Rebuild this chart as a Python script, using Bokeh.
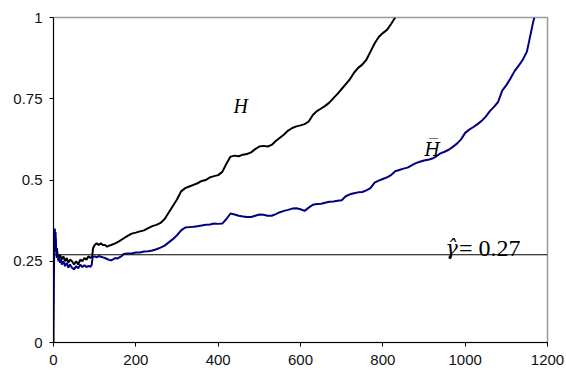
from bokeh.plotting import figure
from bokeh.models import Range1d, FixedTicker, Span, Label
from bokeh.embed import file_html
from bokeh.resources import INLINE

# ---- data ----
X_TICKS = [0, 200, 400, 600, 800, 1000, 1200]
Y_TICKS = [0, 0.25, 0.5, 0.75, 1]
Y_TICK_LABELS = ["0", "0.25", "0.5", "0.75", "1"]

GAMMA_HAT = 0.27

h_x = [1, 2, 3, 4, 5, 6, 8, 10, 13, 16, 20, 24, 28, 32, 36, 40, 45, 50, 55, 60,
       65, 70, 75, 80, 85, 90, 94, 96, 100, 105, 110, 115, 120, 125, 130, 135, 140,
       150, 160, 170, 180, 190, 200, 210, 220, 230, 240, 250, 260, 270, 280, 290,
       300, 310, 320, 330, 340, 350, 360, 370, 380, 390, 400, 410, 420, 430, 440,
       450, 460, 470, 480, 490, 500, 510, 520, 530, 540, 550, 560, 570, 580, 590,
       600, 610, 620, 630, 640, 650, 660, 670, 680, 690, 700, 710, 720, 730, 740,
       750, 760, 770, 780, 790, 800, 810, 820, 830]
h_y = [0.30, 0.35, 0.33, 0.29, 0.32, 0.28, 0.29, 0.27, 0.26, 0.27, 0.255, 0.265,
       0.25, 0.26, 0.245, 0.255, 0.25, 0.24, 0.25, 0.24, 0.255, 0.25, 0.26, 0.255,
       0.265, 0.26, 0.265, 0.29, 0.30, 0.305, 0.30, 0.305, 0.30, 0.30, 0.295, 0.298,
       0.30, 0.305, 0.312, 0.32, 0.328, 0.335, 0.338, 0.342, 0.345, 0.352, 0.358,
       0.362, 0.368, 0.38, 0.40, 0.42, 0.44, 0.465, 0.475, 0.48, 0.485, 0.49, 0.497,
       0.50, 0.508, 0.512, 0.515, 0.525, 0.55, 0.572, 0.575, 0.573, 0.578, 0.58,
       0.585, 0.595, 0.603, 0.605, 0.603, 0.608, 0.62, 0.63, 0.64, 0.652, 0.66,
       0.665, 0.668, 0.672, 0.68, 0.70, 0.712, 0.72, 0.728, 0.738, 0.752, 0.765,
       0.78, 0.795, 0.81, 0.83, 0.845, 0.855, 0.87, 0.895, 0.92, 0.94, 0.952,
       0.962, 0.98, 1.0]

hbar_x = [0, 1, 2, 3, 4, 5, 6, 7, 8, 10, 12, 14, 16, 18, 20, 24, 28, 32, 36, 40,
          45, 50, 55, 60, 65, 70, 75, 80, 85, 90, 93, 95, 100, 105, 110, 115, 120,
          125, 130, 135, 140, 145, 150, 155, 160, 165, 170, 180, 190, 200, 210, 220,
          230, 240, 250, 260, 270, 280, 290, 300, 310, 320, 330, 340, 350, 360, 370,
          380, 390, 400, 410, 420, 430, 440, 450, 460, 470, 480, 490, 500, 510, 520,
          530, 540, 550, 560, 570, 580, 590, 600, 610, 620, 630, 640, 650, 660, 670,
          680, 690, 700, 710, 720, 730, 740, 750, 760, 770, 780, 790, 800, 810, 820,
          830, 840, 850, 860, 870, 880, 890, 900, 910, 920, 930, 940, 950, 960, 970,
          980, 990, 1000, 1010, 1020, 1030, 1040, 1050, 1060, 1070, 1080, 1090, 1100,
          1110, 1120, 1130, 1140, 1150, 1155, 1160, 1165, 1168]
hbar_y = [0.0, 0.18, 0.34, 0.35, 0.31, 0.34, 0.30, 0.28, 0.26, 0.27, 0.25, 0.26,
          0.245, 0.255, 0.24, 0.25, 0.235, 0.245, 0.23, 0.24, 0.23, 0.225, 0.235,
          0.228, 0.24, 0.232, 0.238, 0.232, 0.236, 0.233, 0.24, 0.262, 0.265, 0.262,
          0.266, 0.264, 0.262, 0.26, 0.257, 0.254, 0.253, 0.256, 0.26, 0.258, 0.262,
          0.265, 0.272, 0.274, 0.274, 0.277, 0.277, 0.28, 0.281, 0.283, 0.287, 0.292,
          0.298, 0.308, 0.318, 0.33, 0.345, 0.354, 0.355, 0.356, 0.358, 0.36, 0.362,
          0.363, 0.366, 0.365, 0.366, 0.38, 0.397, 0.394, 0.39, 0.388, 0.386, 0.386,
          0.39, 0.394, 0.393, 0.39, 0.39, 0.395, 0.401, 0.405, 0.408, 0.412, 0.413,
          0.41, 0.405, 0.415, 0.424, 0.426, 0.427, 0.43, 0.433, 0.434, 0.436, 0.438,
          0.45, 0.456, 0.459, 0.462, 0.463, 0.468, 0.475, 0.492, 0.498, 0.503, 0.508,
          0.515, 0.527, 0.531, 0.535, 0.538, 0.545, 0.552, 0.556, 0.56, 0.562, 0.566,
          0.573, 0.582, 0.587, 0.593, 0.602, 0.612, 0.625, 0.645, 0.655, 0.663, 0.672,
          0.682, 0.695, 0.712, 0.725, 0.74, 0.775, 0.792, 0.812, 0.835, 0.852, 0.87,
          0.895, 0.925, 0.955, 0.985, 1.0]

# ---- figure ----
p = figure(width=566, height=371, output_backend="svg", toolbar_location=None,
           x_range=Range1d(0, 1200), y_range=Range1d(0, 1),
           min_border_left=53, min_border_right=19, min_border_top=17,
           min_border_bottom=29)
p.background_fill_color = "white"
p.border_fill_color = "white"
p.outline_line_color = "#9a9a9a"
p.outline_line_width = 1.5
p.xgrid.visible = False
p.ygrid.visible = False

p.axis.axis_line_color = "#000000"
p.axis.axis_line_width = 1
p.axis.major_tick_line_color = "#000000"
p.axis.major_tick_out = 4
p.axis.major_tick_in = 0
p.axis.minor_tick_line_color = None
p.axis.major_label_text_font = "Liberation Sans"
p.axis.major_label_text_font_size = "15px"
p.axis.major_label_text_color = "#111111"

p.xaxis.ticker = FixedTicker(ticks=X_TICKS)
p.yaxis.ticker = FixedTicker(ticks=Y_TICKS)
p.yaxis.major_label_overrides = {t: l for t, l in zip(Y_TICKS, Y_TICK_LABELS)}
p.xaxis.major_label_standoff = 8
p.yaxis.major_label_standoff = 7

p.add_layout(Span(location=GAMMA_HAT, dimension="width", line_color="#000000",
                  line_width=1))

p.line(h_x, h_y, line_color="#000000", line_width=2)
p.line(hbar_x, hbar_y, line_color="#000080", line_width=2)

p.add_layout(Label(x=455, y=0.728, text="H", text_align="center",
                   text_baseline="alphabetic", text_font="Liberation Serif",
                   text_font_style="italic", text_font_size="20px",
                   text_color="#000000"))
p.add_layout(Label(x=920, y=0.595, text="H\u0305", text_align="center",
                   text_baseline="alphabetic", text_font="DejaVu Serif",
                   text_font_style="italic", text_font_size="18px",
                   text_color="#000000"))
p.add_layout(Label(x=982, y=0.292, text="\u03b3\u0302", text_align="right",
                   text_baseline="alphabetic", text_font="DejaVu Serif",
                   text_font_style="italic", text_font_size="21px",
                   text_color="#000000"))
p.add_layout(Label(x=985, y=0.292, text="= 0.27", text_align="left",
                   text_baseline="alphabetic", text_font="Liberation Serif",
                   text_font_size="24px", text_color="#000000"))

open("out.html", "w").write(file_html(p, INLINE))
